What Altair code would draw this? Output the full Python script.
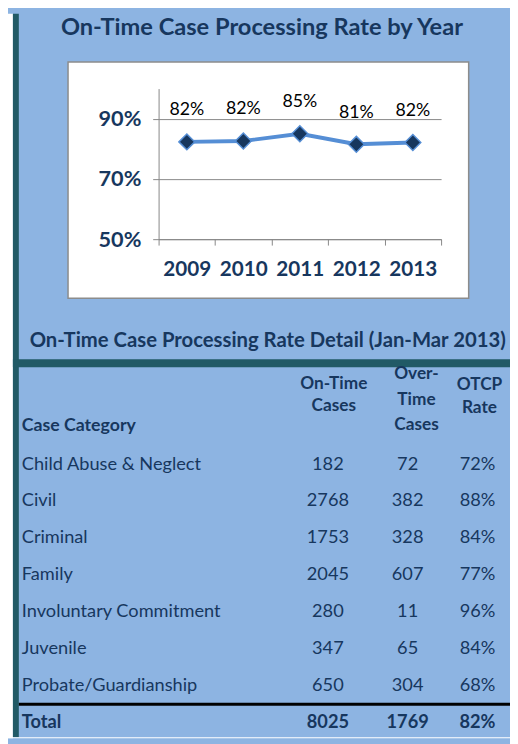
import altair as alt
import pandas as pd

# ---------------- data ----------------
years = ["2009", "2010", "2011", "2012", "2013"]
year_rate = [82.3, 82.6, 85.0, 81.5, 82.1]
year_label = ["82%", "82%", "85%", "81%", "82%"]

categories = ["Child Abuse & Neglect", "Civil", "Criminal", "Family",
              "Involuntary Commitment", "Juvenile", "Probate/Guardianship"]
on_time = [182, 2768, 1753, 2045, 280, 347, 650]
over_time = [72, 382, 328, 607, 11, 65, 304]
otcp_rate = ["72%", "88%", "84%", "77%", "96%", "84%", "68%"]

total_name = "Total"
total_on_time = 8025
total_over_time = 1769
total_rate = "82%"

title_text = "On-Time Case Processing Rate by Year"
subtitle_text = "On-Time Case Processing Rate Detail (Jan-Mar 2013)"
header_first = "Case Category"
header_cols = ["On-Time\nCases", "Over-\nTime\nCases", "OTCP\nRate"]

# ---------------- style ----------------
FONT = "Lato"
NAVY = "#17375E"
BLUE_BG = "#8DB4E2"
TEAL = "#215A66"
LINE = "#558ED5"
GRID = "#878787"

W, H = 287, 153
PL, PT = 153, 76
TOTAL_W, TOTAL_H = 510, 736

dummy = pd.DataFrame({"k": [0]})

year_df = pd.DataFrame({"year": years, "rate": year_rate, "label": year_label})

row_domain = categories + [total_name]
body_df = pd.DataFrame({
    "category": categories,
    "on": [str(v) for v in on_time],
    "over": [str(v) for v in over_time],
    "rate": otcp_rate,
})
total_df = pd.DataFrame({
    "category": [total_name],
    "on": [str(total_on_time)],
    "over": [str(total_over_time)],
    "rate": [total_rate],
})

def rect(x, x2, y, y2, color, **kw):
    return alt.Chart(dummy).mark_rect(color=color, **kw).encode(
        x=alt.value(x), x2=alt.value(x2), y=alt.value(y), y2=alt.value(y2))

# decorations
white_strip = rect(-PL, -148, -PT, TOTAL_H - PT, "white")
teal_bar = rect(-148, -142, -PT, 659, TEAL)
teal_sep = rect(-148, TOTAL_W - PL, 275, 283, TEAL)
black_sep = rect(-142, TOTAL_W - PL, 624, 627, "black")
white_box = rect(-92, 315, -27, 213, "white", stroke="#8C8C8C", strokeWidth=1.5)
bottom_white = rect(-PL, TOTAL_W - PL, 659, TOTAL_H - PT, "white")

# ---------------- line chart ----------------
base = alt.Chart(year_df).encode(
    x=alt.X("year:O",
            scale=alt.Scale(type="band", paddingInner=0, paddingOuter=0),
            axis=alt.Axis(title=None, labelAngle=0, tickBand="extent",
                          labelFont=FONT, labelFontSize=21, labelFontWeight="bold",
                          labelColor=NAVY, labelPadding=14, tickSize=6,
                          tickColor=GRID, domainColor=GRID, zindex=1)),
    y=alt.Y("rate:Q",
            scale=alt.Scale(domain=[50, 100], nice=False, zero=False),
            axis=alt.Axis(title=None, values=[50, 70, 90],
                          labelExpr="datum.value + '%'",
                          labelFont=FONT, labelFontSize=22, labelFontWeight="bold",
                          labelColor=NAVY, labelPadding=12, tickSize=6,
                          tickColor=GRID, domainColor=GRID,
                          grid=True, gridColor=GRID, gridWidth=1, zindex=1)),
)
line = base.mark_line(color=LINE, strokeWidth=4)
pts = base.mark_point(shape="diamond", filled=True, size=260, fill=NAVY,
                      stroke=LINE, strokeWidth=1.5, opacity=1)
labels = base.mark_text(dy=-32, font=FONT, fontSize=18, color="black").encode(
    text="label:N")
line_chart = alt.layer(line, pts, labels)

# ---------------- texts ----------------
title = alt.Chart(dummy).mark_text(
    text=title_text, font=FONT, fontSize=24, fontWeight="bold", color=NAVY,
    align="center", baseline="middle").encode(x=alt.value(105), y=alt.value(-61))
subtitle = alt.Chart(dummy).mark_text(
    text=subtitle_text, font=FONT, fontSize=20.6, fontWeight="bold", color=NAVY,
    align="left", baseline="middle").encode(x=alt.value(-131), y=alt.value(257))
head0 = alt.Chart(dummy).mark_text(
    text=header_first, font=FONT, fontSize=18, fontWeight="bold", color=NAVY,
    align="left", baseline="middle").encode(x=alt.value(-139), y=alt.value(343))

# (x centre, first-line y, line height) of each column header
head_pos = [(178, 300, 23), (262, 290, 26), (326, 301, 24)]
heads = []
for txt, (xh, yh, lh) in zip(header_cols, head_pos):
    heads.append(alt.Chart(pd.DataFrame({"t": [txt]})).mark_text(
        font=FONT, fontSize=17.5, fontWeight="bold", color=NAVY, align="center",
        baseline="middle", lineBreak="\n", lineHeight=lh).encode(
        text="t:N", x=alt.value(xh), y=alt.value(yh)))

yrow = alt.Y("category:N", sort=None, axis=None,
             scale=alt.Scale(type="point", domain=row_domain, range=[381, 644], padding=0))

col_x = [172, 253, 324]
col_fields = ["on", "over", "rate"]

body_layers = [alt.Chart(body_df).mark_text(
    font=FONT, fontSize=18.5, color=NAVY, align="left", baseline="middle").encode(
    text="category:N", x=alt.value(-139), y=yrow)]
for f, xc in zip(col_fields, col_x):
    body_layers.append(alt.Chart(body_df).mark_text(
        font=FONT, fontSize=18.5, color=NAVY, align="center", baseline="middle").encode(
        text=f"{f}:N", x=alt.value(xc), y=yrow))

total_layers = [alt.Chart(total_df).mark_text(
    font=FONT, fontSize=18.5, fontWeight="bold", color=NAVY, align="left",
    baseline="middle").encode(text="category:N", x=alt.value(-139), y=yrow)]
for f, xc in zip(col_fields, col_x):
    total_layers.append(alt.Chart(total_df).mark_text(
        font=FONT, fontSize=18.5, fontWeight="bold", color=NAVY, align="center",
        baseline="middle").encode(text=f"{f}:N", x=alt.value(xc), y=yrow))

chart = alt.layer(
    white_strip, teal_bar, teal_sep, black_sep, bottom_white, white_box,
    line_chart, title, subtitle, head0, *heads, *body_layers, *total_layers,
).resolve_scale(x="independent", y="independent").properties(
    width=W, height=H,
    padding={"left": PL, "top": PT, "right": TOTAL_W - PL - W, "bottom": TOTAL_H - PT - H},
    autosize=alt.AutoSizeParams(type="none"),
    background=BLUE_BG,
).configure_view(stroke=GRID, strokeWidth=1, fill=None)

chart.save("out.html", embed_options={"renderer": "svg", "actions": False})
